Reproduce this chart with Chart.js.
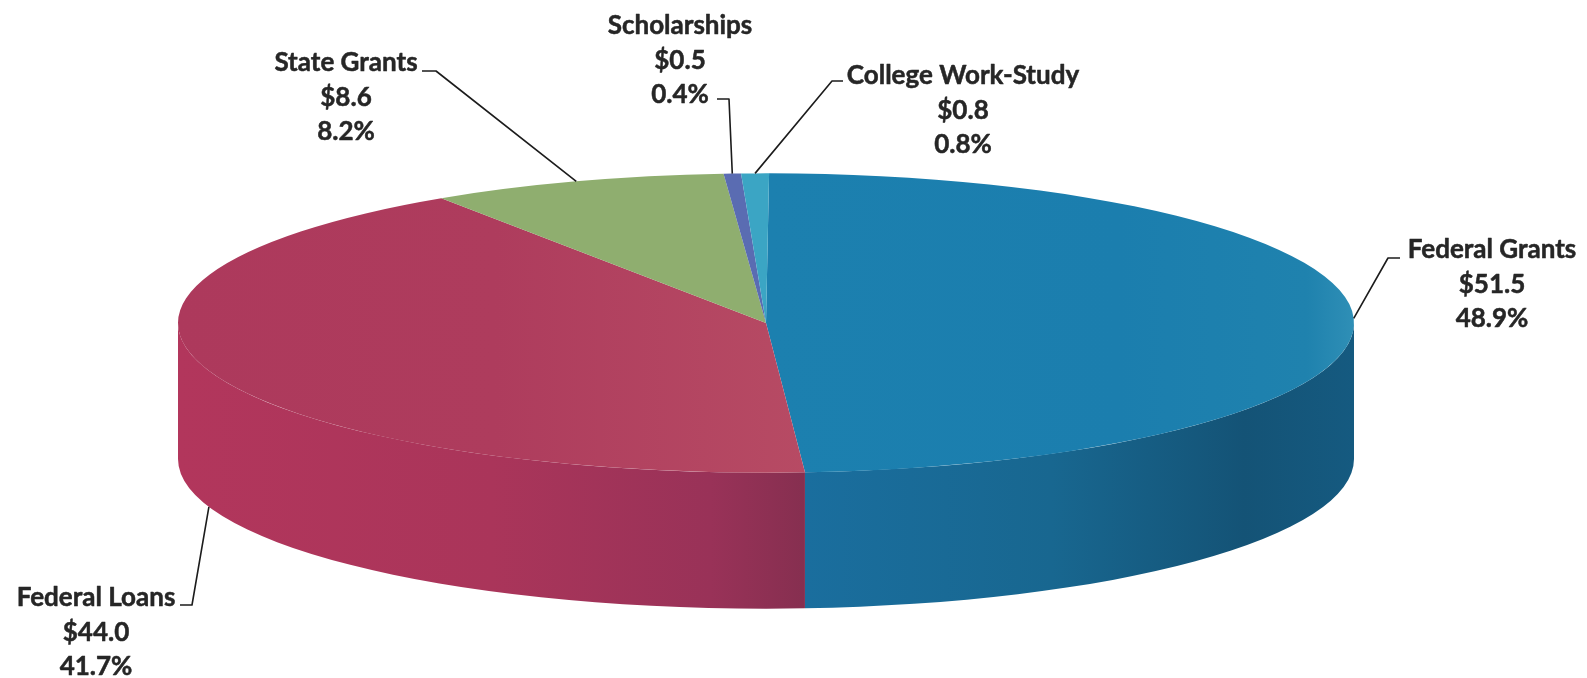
<!DOCTYPE html>
<html lang="en">
<head>
  <meta charset="UTF-8" />
  <title>Student Aid by Source</title>
  <script src="https://cdn.jsdelivr.net/npm/chart.js"></script>
  <style>
    html, body { margin: 0; padding: 0; background: #fff; }
    .chart-box { width: 1587px; height: 678px; }
  </style>
</head>
<body>
  <div class="chart-box"><canvas id="pieChart"></canvas></div>

  <script>
    // Data
    const categories = ['Federal Grants', 'Federal Loans', 'State Grants', 'Scholarships', 'College Work-Study'];
    const amounts = [51.5, 44.0, 8.6, 0.5, 0.8];
    const amountLabels = ['$51.5', '$44.0', '$8.6', '$0.5', '$0.8'];
    const percentLabels = ['48.9%', '41.7%', '8.2%', '0.4%', '0.8%'];

    // Look of the tilted pie
    const RADIUS = 588;
    const TILT = 0.2545;
    const DEPTH = 136;
    const sliceColors = ['#1d80ad', '#b03f5f', '#8fae6f', '#5a6cb2', '#3ba5c4'];
    const blueTop = [[0, '#1c80af'], [0.6, '#1b7eae'], [0.92, '#1f82ae'], [1, '#2f8fb6']];
    const redTop = [[0, '#ad395c'], [0.5, '#ae3c5d'], [1, '#b74b64']];
    const blueSide = [[0, '#1a6e9e'], [0.45, '#186790'], [0.8, '#145376'], [1, '#155a80']];
    const redSide = [[0, '#b2365c'], [0.5, '#aa355a'], [0.85, '#993258'], [1, '#862f50']];

    // Label centre, and leader line as [label end, elbow]; the pie end comes from the slice
    const labelBoxes = [
      { x: 1492, y: 250, line: [[1400, 258], [1388, 258]], onSide: false },
      { x: 96, y: 598, line: [[180, 605], [192, 605]], onSide: true },
      { x: 346, y: 63, line: [[422, 71], [436, 71]], onSide: false },
      { x: 680, y: 26, line: [[717, 99], [729, 99]], onSide: false },
      { x: 963, y: 76, line: [[843, 81], [832, 81]], onSide: false }
    ];
    const LINE_GAP = 34.5;

    function makeGradient(ctx, x0, x1, stops) {
      const g = ctx.createLinearGradient(x0, 0, x1, 0);
      stops.forEach(s => g.addColorStop(s[0], s[1]));
      return g;
    }

    function topFill(c) {
      const area = c.chart.chartArea;
      if (!area) return sliceColors[c.dataIndex];
      const cx = (area.left + area.right) / 2;
      if (c.dataIndex === 0) return makeGradient(c.chart.ctx, cx, cx + RADIUS, blueTop);
      if (c.dataIndex === 1) return makeGradient(c.chart.ctx, cx - RADIUS, cx + 45, redTop);
      return sliceColors[c.dataIndex];
    }

    const pie3d = {
      id: 'pie3d',
      beforeDatasetsDraw(chart) {
        const ctx = chart.ctx;
        const arcs = chart.getDatasetMeta(0).data;
        const { x, y, outerRadius: r } = arcs[0];
        const ry = r * TILT;

        // Side wall: only the front half of each slice shows
        arcs.forEach((arc, i) => {
          const s = Math.max(arc.startAngle, 0);
          const e = Math.min(arc.endAngle, Math.PI);
          if (e <= s) return;
          const x0 = x + r * Math.cos(e);
          const x1 = x + r * Math.cos(s);
          const stops = i === 0 ? blueSide : i === 1 ? redSide : [[0, sliceColors[i]], [1, sliceColors[i]]];
          ctx.beginPath();
          ctx.ellipse(x, y, r, ry, 0, s, e);
          ctx.ellipse(x, y + DEPTH, r, ry, 0, e, s, true);
          ctx.closePath();
          ctx.fillStyle = makeGradient(ctx, x0, x1, stops);
          ctx.fill();
        });

        // Squash the library's own arcs into the top face
        ctx.save();
        ctx.translate(x, y);
        ctx.scale(1, TILT);
        ctx.translate(-x, -y);
      },
      afterDatasetsDraw(chart) {
        const ctx = chart.ctx;
        ctx.restore();

        const arcs = chart.getDatasetMeta(0).data;
        const { x, y, outerRadius: r } = arcs[0];
        const ry = r * TILT;

        ctx.save();
        ctx.lineJoin = 'round';
        ctx.fillStyle = '#262626';
        ctx.font = 'bold 26px Lato';
        ctx.textAlign = 'center';
        ctx.textBaseline = 'middle';
        arcs.forEach((arc, i) => {
          const box = labelBoxes[i];
          const mid = (arc.startAngle + arc.endAngle) / 2;
          ctx.strokeStyle = '#1c1c1c';
          ctx.lineWidth = 1.6;
          ctx.beginPath();
          ctx.moveTo(box.line[0][0], box.line[0][1]);
          ctx.lineTo(box.line[1][0], box.line[1][1]);
          ctx.lineTo(x + r * Math.cos(mid), y + ry * Math.sin(mid) + (box.onSide ? DEPTH : 0));
          ctx.stroke();

          // thin outline so the weight comes close to the scanned labels
          ctx.strokeStyle = '#262626';
          ctx.lineWidth = 0.5;
          [categories[i], amountLabels[i], percentLabels[i]].forEach((text, row) => {
            ctx.fillText(text, box.x, box.y + LINE_GAP * row);
            ctx.strokeText(text, box.x, box.y + LINE_GAP * row);
          });
        });
        ctx.restore();
      }
    };

    new Chart(document.getElementById('pieChart'), {
      type: 'pie',
      data: {
        labels: categories,
        datasets: [{
          data: amounts,
          backgroundColor: topFill,
          borderWidth: 0
        }]
      },
      options: {
        responsive: true,
        maintainAspectRatio: false,
        animation: false,
        rotation: 0.3,
        radius: RADIUS,
        layout: { padding: { right: 55, bottom: 32 } },
        events: [],
        plugins: {
          legend: { display: false },
          tooltip: { enabled: false }
        }
      },
      plugins: [pie3d]
    });
  </script>
</body>
</html>
